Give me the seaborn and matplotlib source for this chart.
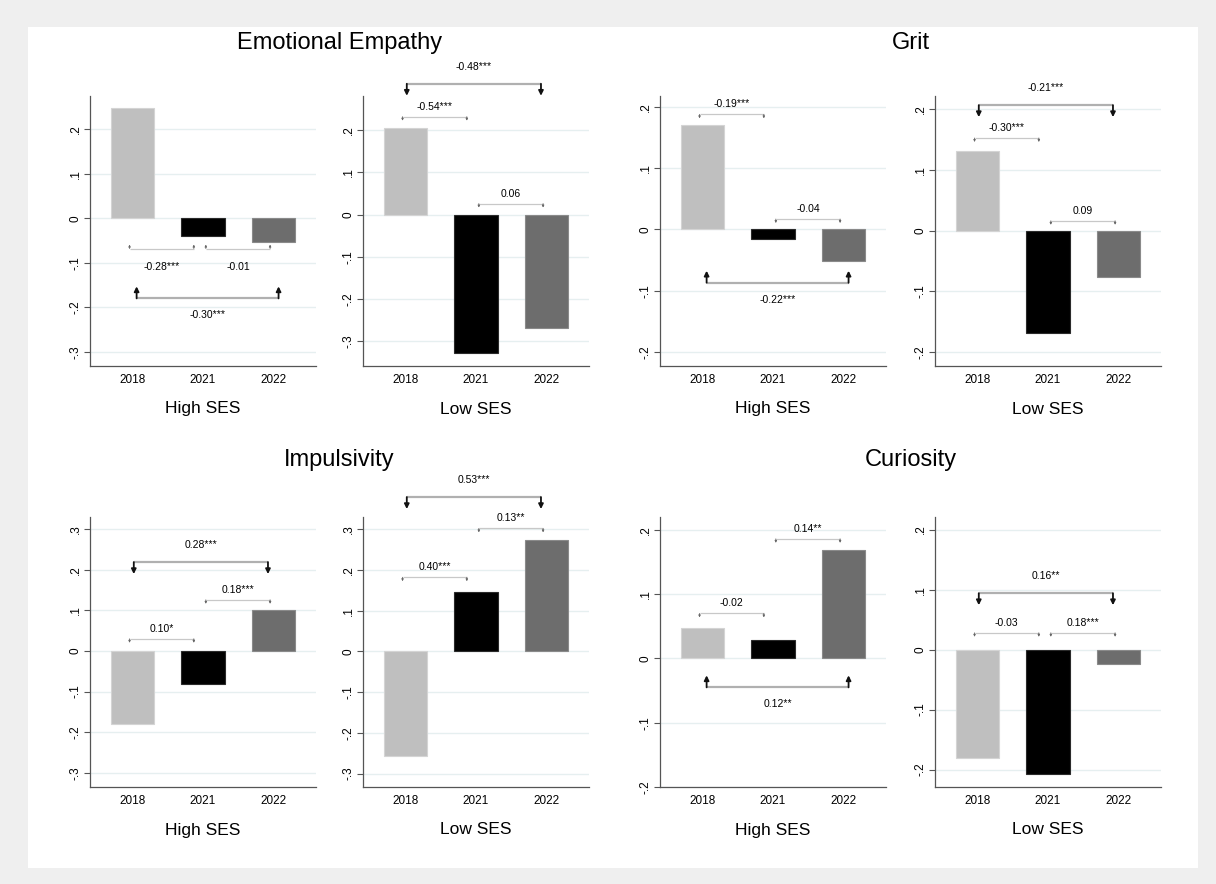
import numpy as np
import pandas as pd
import matplotlib
matplotlib.use("Agg")
import matplotlib.pyplot as plt
import matplotlib.transforms as mtransforms
from matplotlib.patches import Rectangle
import seaborn as sns

# ========== Data ==========
traits = ["Emotional Empathy", "Grit", "Impulsivity", "Curiosity"]
groups = ["High SES", "Low SES"]
years = ["2018", "2021", "2022"]

ee_high = [0.248, -0.040, -0.054]
ee_low = [0.206, -0.328, -0.270]
grit_high = [0.170, -0.016, -0.052]
grit_low = [0.131, -0.169, -0.077]
imp_high = [-0.180, -0.081, 0.101]
imp_low = [-0.256, 0.146, 0.273]
cur_high = [0.048, 0.028, 0.169]
cur_low = [-0.181, -0.208, -0.024]

# differences: 2018->2021, 2021->2022, 2018->2022
ee_high_diff = ["-0.28***", "-0.01", "-0.30***"]
ee_low_diff = ["-0.54***", "0.06", "-0.48***"]
grit_high_diff = ["-0.19***", "-0.04", "-0.22***"]
grit_low_diff = ["-0.30***", "0.09", "-0.21***"]
imp_high_diff = ["0.10*", "0.18***", "0.28***"]
imp_low_diff = ["0.40***", "0.13**", "0.53***"]
cur_high_diff = ["-0.02", "0.14**", "0.12**"]
cur_low_diff = ["-0.03", "0.18***", "0.16**"]

pairs = [(0, 1), (1, 2), (0, 2)]

values = {
    ("Emotional Empathy", "High SES"): ee_high, ("Emotional Empathy", "Low SES"): ee_low,
    ("Grit", "High SES"): grit_high, ("Grit", "Low SES"): grit_low,
    ("Impulsivity", "High SES"): imp_high, ("Impulsivity", "Low SES"): imp_low,
    ("Curiosity", "High SES"): cur_high, ("Curiosity", "Low SES"): cur_low,
}
diffs = {
    ("Emotional Empathy", "High SES"): ee_high_diff, ("Emotional Empathy", "Low SES"): ee_low_diff,
    ("Grit", "High SES"): grit_high_diff, ("Grit", "Low SES"): grit_low_diff,
    ("Impulsivity", "High SES"): imp_high_diff, ("Impulsivity", "Low SES"): imp_low_diff,
    ("Curiosity", "High SES"): cur_high_diff, ("Curiosity", "Low SES"): cur_low_diff,
}

# ========== Layout (axis limits, bracket heights) ==========
ylims = {
    ("Emotional Empathy", "High SES"): (-0.332, 0.275), ("Emotional Empathy", "Low SES"): (-0.359, 0.281),
    ("Grit", "High SES"): (-0.223, 0.218), ("Grit", "Low SES"): (-0.2225, 0.221),
    ("Impulsivity", "High SES"): (-0.335, 0.33), ("Impulsivity", "Low SES"): (-0.333, 0.33),
    ("Curiosity", "High SES"): (-0.2, 0.22), ("Curiosity", "Low SES"): (-0.229, 0.221),
}
yticks = {"Emotional Empathy": [-0.3, -0.2, -0.1, 0, 0.1, 0.2],
          "Grit": [-0.2, -0.1, 0, 0.1, 0.2],
          "Impulsivity": [-0.3, -0.2, -0.1, 0, 0.1, 0.2, 0.3],
          "Curiosity": [-0.2, -0.1, 0, 0.1, 0.2]}
bracket_y = {
    ("Emotional Empathy", "High SES"): [-0.068, -0.068, -0.18],
    ("Emotional Empathy", "Low SES"): [0.232, 0.026, 0.31],
    ("Grit", "High SES"): [0.188, 0.017, -0.087],
    ("Grit", "Low SES"): [0.152, 0.016, 0.206],
    ("Impulsivity", "High SES"): [0.03, 0.126, 0.219],
    ("Impulsivity", "Low SES"): [0.182, 0.302, 0.379],
    ("Curiosity", "High SES"): [0.07, 0.186, -0.045],
    ("Curiosity", "Low SES"): [0.028, 0.028, 0.094],
}

palette = {"2018": "#bfbfbf", "2021": "#000000", "2022": "#6d6d6d"}
edges = {"2018": "#d4d4d4", "2021": "#2a2a2a", "2022": "#8a8a8a"}

sns.set_style("white")
plt.rcParams["font.family"] = ["Liberation Sans", "DejaVu Sans"]
plt.rcParams["text.color"] = "black"
plt.rcParams["xtick.color"] = "black"
plt.rcParams["ytick.color"] = "black"

W, H = 1216, 884
fig = plt.figure(figsize=(W / 100, H / 100), dpi=100, facecolor="#efefef")
fig.patches.append(Rectangle((28 / W, 1 - 868 / H), (1198 - 28) / W, (868 - 27) / H,
                             transform=fig.transFigure, facecolor="white",
                             edgecolor="none", zorder=-5))

col_left = [90, 363, 660, 935]
row_top = [96, 517]
ax_w, ax_h = 226, 270


def stata_fmt(v):
    s = f"{v:g}"
    if s in ("0", "-0"):
        return "0"
    return s.replace("0.", ".")


def bracket(ax, i, j, text, level, vals):
    big = (i, j) == (0, 2)
    down = level > max(vals[i], vals[j], 0)
    sign = -1 if down else 1
    if big:
        x0, x1 = (0.02, 1.92) if down else (0.06, 2.07)
        L, head, lw_line, lc, ac, alw, toff = 12, 7, 1.6, "#b0b0b0", "#111111", 1.3, 17
    else:
        s = 0.04 * (2 * i - 1)
        x0, x1 = i + s, i + s + 0.91
        L, head, lw_line, lc, ac, alw = 4, 3, 0.9, "#c8c8c8", "#666666", 0.6
        toff = 10 if down else 18
    ax.plot([x0, x1], [level, level], color=lc, lw=lw_line, clip_on=False,
            solid_capstyle="butt", zorder=3)
    tip = mtransforms.offset_copy(ax.transData, fig=fig, x=0, y=sign * L, units="dots")
    for x in (x0, x1):
        ax.annotate("", xy=(x, level), xycoords=tip, xytext=(x, level), textcoords="data",
                    arrowprops=dict(arrowstyle="-|>", color=ac, lw=alw, mutation_scale=head,
                                    shrinkA=0, shrinkB=0),
                    annotation_clip=False, zorder=4)
    ax.annotate(text, xy=((x0 + x1) / 2, level), xytext=(0, -sign * toff),
                textcoords="offset pixels", ha="center", va="center",
                fontsize=7.5, color="black", annotation_clip=False)


for k, trait in enumerate(traits):
    r = k // 2
    for g, group in enumerate(groups):
        c = 2 * (k % 2) + g
        ax = fig.add_axes([col_left[c] / W, 1 - (row_top[r] + ax_h) / H, ax_w / W, ax_h / H])
        ax.patch.set_alpha(0)
        key = (trait, group)
        vals = values[key]
        df = pd.DataFrame({"year": years, "value": vals})
        sns.barplot(data=df, x="year", y="value", hue="year", order=years,
                    palette=palette, legend=False, dodge=False, width=0.61,
                    errorbar=None, ax=ax, zorder=2)
        for patch, yr in zip(ax.patches, years):
            patch.set_edgecolor(edges[yr])
            patch.set_linewidth(0.8)

        ax.set_xlim(-0.6, 2.6)
        ax.set_ylim(*ylims[key])
        ticks = yticks[trait]
        ax.set_yticks(ticks)
        ax.set_yticklabels([stata_fmt(t) for t in ticks], rotation=90, va="center")
        ax.yaxis.grid(True, color="#e6eff0", lw=1, zorder=0)
        ax.set_axisbelow(True)
        ax.tick_params(axis="y", length=4, width=0.8, color="#555555", labelcolor="black",
                       pad=2, labelsize=8.5, left=True)
        ax.tick_params(axis="x", length=0, pad=6, labelsize=8.5, labelcolor="black")
        for sp in ["top", "right"]:
            ax.spines[sp].set_visible(False)
        for sp in ["left", "bottom"]:
            ax.spines[sp].set_color("#555555")
            ax.spines[sp].set_linewidth(0.9)
        ax.set_xlabel("")
        ax.set_ylabel("")
        ax.text(0.5, -43 / ax_h, group, transform=ax.transAxes, ha="center",
                va="center", fontsize=12.5, color="black")

        for (i, j), lab, lev in zip(pairs, diffs[key], bracket_y[key]):
            bracket(ax, i, j, lab, lev, vals)

    # trait title centred over its two panels
    c0 = 2 * (k % 2)
    xc = (col_left[c0] + col_left[c0 + 1] + ax_w) / 2 / W
    yt = [43, 460][r]
    fig.text(xc, 1 - yt / H, trait, ha="center", va="center", fontsize=17, color="black")

fig.savefig("out.png", dpi=100, facecolor=fig.get_facecolor())
